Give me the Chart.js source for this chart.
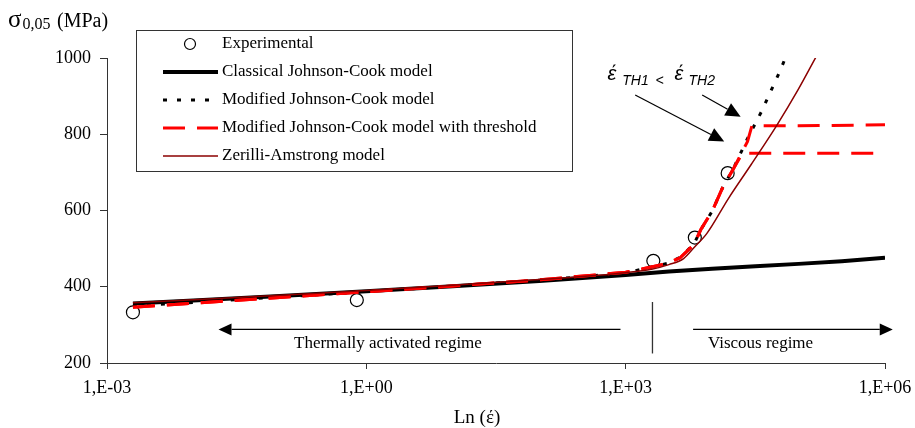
<!DOCTYPE html>
<html>
<head>
<meta charset="utf-8">
<script src="https://cdn.jsdelivr.net/npm/chart.js@4.4.0/dist/chart.umd.min.js"></script>
<style>
  html, body { margin: 0; padding: 0; background: #fff; }
  canvas { display: block; }
</style>
</head>
<body>
<canvas id="chart" width="915" height="428"></canvas>
<script>
// x values are log10 of the strain rate (1/s), y values are stress in MPa
const seriesNames = [
  'Experimental',
  'Classical Johnson-Cook model',
  'Modified Johnson-Cook model',
  'Modified Johnson-Cook model with threshold',
  'Zerilli-Amstrong model'
];

const expX = [-2.70, -0.11, 3.32, 3.80, 4.18];
const expY = [333, 365, 468, 529, 698];

const cjcX = [-2.7, -2, -1, 0, 1, 2, 2.5, 3, 3.5, 4, 4.5, 5, 5.5, 6];
const cjcY = [356, 364, 376, 388, 401, 415, 423, 431, 440, 447, 454, 460, 467, 476];

const mjcX = [-2.7, -2, -1, 0, 1, 2, 3, 3.2, 3.48, 3.63, 3.79, 3.87, 4.0, 4.12, 4.25, 4.41, 4.57, 4.79, 4.85];
const mjcY = [350, 359, 373, 387, 402, 417, 436, 447, 461, 477, 512, 550, 598, 659, 712, 789, 859, 968, 1002];

const th1X = [-2.7, -2, -1, 0, 1, 2, 3, 3.2, 3.48, 3.63, 3.79, 3.87, 4.0, 4.12, 4.25, 4.35, 5.93];
const th1Y = [346, 357, 372, 387, 402, 418, 438, 447, 461, 476, 511, 550, 598, 659, 711, 750, 750];

const th2X = [-2.7, -2, -1, 0, 1, 2, 3, 3.2, 3.48, 3.63, 3.79, 3.87, 4.0, 4.12, 4.25, 4.41, 4.46, 5.0, 6.0];
const th2Y = [346, 357, 372, 387, 402, 418, 438, 447, 461, 476, 511, 550, 598, 659, 711, 781, 822, 822, 825];

const zaX = [-2.7, -2, -1, 0, 1, 2, 3, 3.3, 3.5, 3.67, 3.8, 3.94, 4.19, 4.45, 4.75, 4.99, 5.2];
const zaY = [358, 366, 378, 390, 404, 419, 437, 446, 458, 474, 505, 540, 632, 720, 824, 915, 1002];

const xTicks = [-3, 0, 3, 6];
const xTickLabels = ['1,E-03', '1,E+00', '1,E+03', '1,E+06'];
const yTicks = [200, 400, 600, 800, 1000];

const pts = (xs, ys) => xs.map((x, i) => ({ x: x, y: ys[i] }));

const SERIF = '"Liberation Serif", "Times New Roman", serif';
const SANS = '"Liberation Sans", Arial, sans-serif';
const RED = '#ff0000';
const DARKRED = '#8b0000';

function arrow(ctx, x1, y1, x2, y2, len, half) {
  const a = Math.atan2(y2 - y1, x2 - x1);
  const bx = x2 - len * Math.cos(a), by = y2 - len * Math.sin(a);
  ctx.beginPath();
  ctx.moveTo(x1, y1);
  ctx.lineTo(bx, by);
  ctx.stroke();
  ctx.beginPath();
  ctx.moveTo(x2, y2);
  ctx.lineTo(bx + half * Math.sin(a), by - half * Math.cos(a));
  ctx.lineTo(bx - half * Math.sin(a), by + half * Math.cos(a));
  ctx.closePath();
  ctx.fill();
}

const overlay = {
  id: 'overlay',
  afterDraw(chart) {
    const ctx = chart.ctx;
    const px = v => chart.scales.x.getPixelForValue(v);
    const py = v => chart.scales.y.getPixelForValue(v);
    ctx.save();

    // regime separator and arrows
    ctx.strokeStyle = '#333';
    ctx.fillStyle = '#000';
    ctx.lineWidth = 1.3;
    ctx.beginPath();
    ctx.moveTo(px(3.31), py(360));
    ctx.lineTo(px(3.31), py(225));
    ctx.stroke();
    ctx.strokeStyle = '#000';
    ctx.lineWidth = 1.2;
    arrow(ctx, px(2.94), py(288), px(-1.71), py(288), 13, 6);
    arrow(ctx, px(3.78), py(288), px(6.09), py(288), 13, 6);

    ctx.font = '17px ' + SERIF;
    ctx.textAlign = 'center';
    ctx.textBaseline = 'alphabetic';
    ctx.fillText('Thermally activated regime', px(0.25), py(240));
    ctx.fillText('Viscous regime', px(4.56), py(240));

    // threshold annotation
    const ax = px(2.79), ay = py(929);
    ctx.textAlign = 'left';
    ctx.font = 'italic 20px ' + SANS;
    ctx.fillText('έ', ax, ay - 5);
    ctx.fillText('έ', ax + 67, ay - 5);
    ctx.font = 'italic 14px ' + SANS;
    ctx.fillText('TH1', ax + 14.7, ay);
    ctx.fillText('<', ax + 48, ay);
    ctx.fillText('TH2', ax + 81, ay);
    ctx.lineWidth = 1.2;
    arrow(ctx, px(3.11), py(903), px(4.14), py(781), 15, 7);
    arrow(ctx, px(3.885), py(903), px(4.33), py(846), 15, 7);

    // y axis title
    ctx.font = '25px ' + SERIF;
    ctx.fillText('σ', 8, 27);
    const sw = ctx.measureText('σ').width;
    ctx.font = '16px ' + SERIF;
    ctx.fillText('0,05', 8 + sw + 1, 29);
    ctx.font = '20px ' + SERIF;
    ctx.fillText('(MPa)', 57, 27);

    // x axis title
    ctx.font = '19px ' + SERIF;
    ctx.textAlign = 'center';
    ctx.fillText('Ln (έ)', 477, 423);

    // legend box
    ctx.fillStyle = '#fff';
    ctx.fillRect(136, 30, 436, 141);
    ctx.strokeStyle = '#333';
    ctx.lineWidth = 1;
    ctx.strokeRect(136.5, 30.5, 436, 141);
    const rows = [44, 72, 100, 128, 156];
    const ds = chart.data.datasets;
    const legendIdx = [0, 1, 2, 3, 5];
    legendIdx.forEach((di, r) => {
      const d = ds[di];
      const yy = rows[r];
      if (di === 0) {
        ctx.beginPath();
        ctx.arc(190, yy, 5.5, 0, Math.PI * 2);
        ctx.fillStyle = '#fff';
        ctx.fill();
        ctx.strokeStyle = '#000';
        ctx.lineWidth = 1.2;
        ctx.setLineDash([]);
        ctx.stroke();
      } else {
        ctx.beginPath();
        ctx.strokeStyle = d.borderColor;
        ctx.lineWidth = d.borderWidth;
        ctx.setLineDash(d.borderDash || []);
        ctx.moveTo(163, yy);
        ctx.lineTo(218, yy);
        ctx.stroke();
      }
      ctx.setLineDash([]);
      ctx.fillStyle = '#000';
      ctx.font = '17px ' + SERIF;
      ctx.textAlign = 'left';
      ctx.textBaseline = 'middle';
      ctx.fillText(seriesNames[r], 222, yy);
    });
    ctx.restore();
  }
};

new Chart(document.getElementById('chart'), {
  type: 'line',
  data: {
    datasets: [
      {
        label: seriesNames[0],
        data: pts(expX, expY),
        showLine: false,
        pointRadius: 6.5,
        pointBackgroundColor: '#fff',
        pointBorderColor: '#000',
        pointBorderWidth: 1.2,
        order: 4
      },
      {
        label: seriesNames[1],
        data: pts(cjcX, cjcY),
        borderColor: '#000',
        borderWidth: 4,
        pointRadius: 0,
        order: 3
      },
      {
        label: seriesNames[2],
        data: pts(mjcX, mjcY),
        borderColor: '#000',
        borderWidth: 3,
        borderDash: [4, 10],
        pointRadius: 0,
        order: 2
      },
      {
        label: seriesNames[3],
        data: pts(th1X, th1Y),
        borderColor: RED,
        borderWidth: 3,
        borderDash: [22, 12],
        pointRadius: 0,
        order: 1
      },
      {
        label: seriesNames[3],
        data: pts(th2X, th2Y),
        borderColor: RED,
        borderWidth: 3,
        borderDash: [22, 12],
        pointRadius: 0,
        order: 1
      },
      {
        label: seriesNames[4],
        data: pts(zaX, zaY),
        borderColor: DARKRED,
        borderWidth: 1.5,
        pointRadius: 0,
        cubicInterpolationMode: 'monotone',
        order: 0
      }
    ]
  },
  options: {
    responsive: false,
    animation: false,
    devicePixelRatio: 1,
    layout: { padding: { top: 58, right: 30, left: 0, bottom: 0 } },
    elements: { line: { tension: 0, fill: false } },
    plugins: {
      legend: { display: false },
      tooltip: { enabled: false }
    },
    scales: {
      x: {
        type: 'linear',
        min: -3,
        max: 6,
        afterFit: s => { s.height = 65; s.paddingLeft = 0; s.paddingRight = 0; },
        afterBuildTicks: s => { s.ticks = xTicks.map(v => ({ value: v })); },
        grid: { drawOnChartArea: false, drawTicks: true, tickLength: 6, color: '#333' },
        border: { display: true, color: '#333', width: 1 },
        ticks: {
          color: '#000',
          padding: 8,
          maxRotation: 0,
          font: { family: SERIF, size: 18 },
          callback: v => xTickLabels[xTicks.indexOf(v)]
        }
      },
      y: {
        min: 200,
        max: 1000,
        afterFit: s => { s.width = 107; s.paddingTop = 0; s.paddingBottom = 0; },
        afterBuildTicks: s => { s.ticks = yTicks.map(v => ({ value: v })); },
        grid: { drawOnChartArea: false, drawTicks: true, tickLength: 7, color: '#333' },
        border: { display: true, color: '#333', width: 1 },
        ticks: {
          color: '#000',
          padding: 9,
          font: { family: SERIF, size: 18 },
          callback: v => String(v)
        }
      }
    }
  },
  plugins: [overlay]
});
</script>
</body>
</html>
